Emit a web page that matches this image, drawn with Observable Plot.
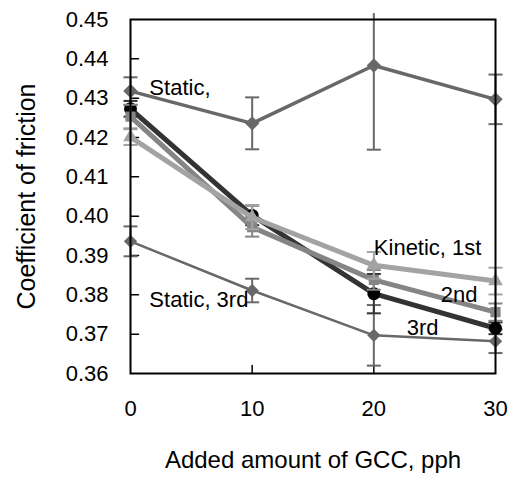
<!DOCTYPE html>
<html>
<head>
<meta charset="utf-8">
<script src="https://cdn.jsdelivr.net/npm/d3@7"></script>
<script src="https://cdn.jsdelivr.net/npm/@observablehq/plot@0.6"></script>
<style>
  html, body { margin: 0; padding: 0; background: #fff; }
  #chart svg { font-family: "Liberation Sans", Arial, sans-serif; }
</style>
</head>
<body>
<div id="chart"></div>
<script>
const gcc = [0, 10, 20, 30];
const yTicks = [0.36, 0.37, 0.38, 0.39, 0.40, 0.41, 0.42, 0.43, 0.44, 0.45];
const xTicks = [0, 10, 20, 30];

const static1st = [0.4318, 0.4236, 0.4383, 0.4297];
const static1stErr = [0.0035, 0.0066, 0.0214, 0.0063];
const static3rd = [0.3936, 0.3811, 0.3697, 0.3682];
const static3rdErr = [0.0038, 0.0030, 0.0077, 0.0030];
const kinetic1st = [0.4201, 0.3997, 0.3875, 0.3835];
const kinetic1stErr = [0.0020, 0.0030, 0.0034, 0.0034];
const kinetic2nd = [0.4253, 0.3972, 0.3838, 0.3756];
const kinetic2ndErr = [0.0030, 0.0024, 0.0025, 0.0022];
const kinetic3rd = [0.4273, 0.4002, 0.3803, 0.3715];
const kinetic3rdErr = [0.0020, 0.0025, 0.0050, 0.0015];

const labels = [
  {text: "Static,", x: 1.55, y: 0.4327},
  {text: "Static, 3rd", x: 1.55, y: 0.3788},
  {text: "Kinetic, 1st", x: 20.0, y: 0.3919},
  {text: "2nd", x: 25.5, y: 0.3800},
  {text: "3rd", x: 22.7, y: 0.3715}
];

const yMax = 0.45;
const series = [
  {name: "Static, 1st", v: static1st, e: static1stErr, line: "#686868", mark: "#686868", lw: 3.5, sym: "diamond2", r: 6.5},
  {name: "Static, 3rd", v: static3rd, e: static3rdErr, line: "#686868", mark: "#686868", lw: 2.5, sym: "diamond2", r: 6},
  {name: "Kinetic, 3rd", v: kinetic3rd, e: kinetic3rdErr, line: "#333333", mark: "#000000", lw: 5, sym: "circle", r: 6.5},
  {name: "Kinetic, 2nd", v: kinetic2nd, e: kinetic2ndErr, line: "#858585", mark: "#858585", lw: 5, sym: "square2", r: 6.5},
  {name: "Kinetic, 1st", v: kinetic1st, e: kinetic1stErr, line: "#a3a3a3", mark: "#a3a3a3", lw: 5, sym: "triangle2", r: 7}
];

const capSymbol = {
  draw(context, size) {
    const r = Math.sqrt(size / Math.PI);
    context.moveTo(-r, 0);
    context.lineTo(r, 0);
  }
};

const marks = [];
for (const s of series) {
  const rows = gcc.map((x, i) => ({x, y: s.v[i], e: s.e[i]}));
  const caps = [];
  for (const d of rows) {
    if (d.y + d.e <= yMax + 1e-9) caps.push({x: d.x, y: d.y + d.e});
    caps.push({x: d.x, y: d.y - d.e});
  }
  marks.push(
    Plot.ruleX(rows, {x: "x", y1: d => d.y - d.e, y2: d => Math.min(d.y + d.e, yMax + 0.0015), stroke: s.line, strokeWidth: 2}),
    Plot.dot(caps, {x: "x", y: "y", symbol: capSymbol, r: 7, stroke: s.line, strokeWidth: 2, fill: "none"}),
    Plot.line(rows, {x: "x", y: "y", stroke: s.line, strokeWidth: s.lw, strokeLinejoin: "round"}),
    Plot.dot(rows, {x: "x", y: "y", symbol: s.sym, r: s.r, fill: s.mark, stroke: "none"})
  );
}

const chart = Plot.plot({
  width: 513,
  height: 480,
  marginLeft: 130,
  marginRight: 18,
  marginTop: 19,
  marginBottom: 107,
  x: {domain: [0, 30]},
  y: {domain: [0.36, 0.45]},
  style: {fontFamily: "Liberation Sans, Arial, sans-serif", color: "#000"},
  marks: [
    Plot.axisY(yTicks, {tickSize: 0, tickPadding: 22, tickFormat: d3.format(".2f"), fontSize: 22, label: null}),
    Plot.axisX(xTicks, {tickSize: 0, tickPadding: 27, fontSize: 22, label: null}),
    Plot.vector(yTicks.slice(1, -1), {x: 0, y: d => d, rotate: 90, length: 8, anchor: "start", shape: {draw(c, l) { c.moveTo(0, 0); c.lineTo(0, -l); }}, stroke: "black", strokeWidth: 1.5}),
    Plot.vector(xTicks.slice(1, -1), {x: d => d, y: 0.36, rotate: 0, length: 8, anchor: "start", shape: {draw(c, l) { c.moveTo(0, 0); c.lineTo(0, -l); }}, stroke: "black", strokeWidth: 1.5}),
    ...marks,
    Plot.frame({stroke: "black", strokeWidth: 2}),
    Plot.text(labels, {x: "x", y: "y", text: "text", textAnchor: "start", fontSize: 22, fill: "black"}),
    Plot.text(["Added amount of GCC, pph"], {frameAnchor: "bottom", textAnchor: "middle", dy: 94, fontSize: 24, fill: "black"}),
    Plot.text(["Coefficient of friction"], {frameAnchor: "left", textAnchor: "middle", rotate: -90, dx: -104, fontSize: 25, fill: "black"})
  ]
});
document.getElementById("chart").appendChild(chart);
</script>
</body>
</html>
